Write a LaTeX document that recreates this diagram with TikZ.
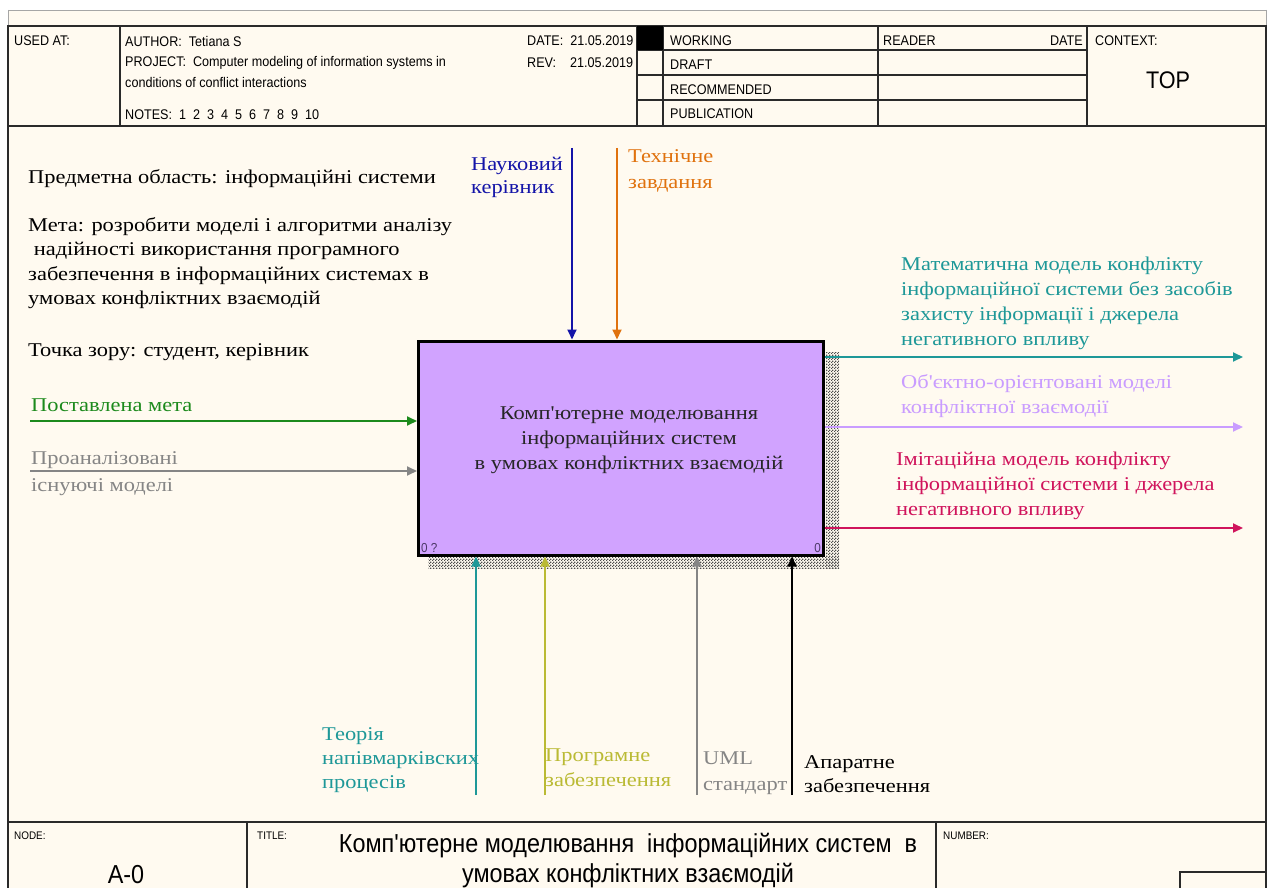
\documentclass[tikz,border=0pt]{standalone}
\usepackage{fontspec}
\setmainfont{Liberation Serif}[Ligatures=TeXOff, FakeStretch=1.15]
\newfontfamily\hdrfont[FakeStretch=0.9]{Liberation Sans}
\usetikzlibrary{arrows.meta,patterns}

\definecolor{paper}{HTML}{FFFAF0}
\definecolor{framec}{HTML}{2A2A2A}
\definecolor{boxfill}{HTML}{D1A3FF}
\definecolor{blueC}{HTML}{1414A8}
\definecolor{orangeC}{HTML}{E0720E}
\definecolor{greenC}{HTML}{1C8A1C}
\definecolor{grayC}{HTML}{858585}
\definecolor{tealC}{HTML}{1E9898}
\definecolor{lavC}{HTML}{C99CFF}
\definecolor{crimC}{HTML}{D0145C}
\definecolor{oliveC}{HTML}{BABA34}
\definecolor{cornerC}{HTML}{4C3868}

% fine checker used for the drop shadow of the activity box
\pgfdeclarepatternformonly{finechecker}{\pgfpointorigin}{\pgfpoint{3pt}{3pt}}{\pgfpoint{3pt}{3pt}}{%
  \pgfpathrectangle{\pgfpointorigin}{\pgfpoint{1.5pt}{1.5pt}}%
  \pgfpathrectangle{\pgfpoint{1.5pt}{1.5pt}}{\pgfpoint{1.5pt}{1.5pt}}%
  \pgfusepath{fill}}

\tikzset{
  frameline/.style={draw=framec, line width=1.6pt},
  thinline/.style={draw=framec, line width=1.2pt},
  hdr/.style={font=\hdrfont\fontsize{14}{16}\selectfont, anchor=west, inner sep=0pt, text=black},
  tiny/.style={font=\hdrfont\fontsize{11}{13}\selectfont, anchor=west, inner sep=0pt, text=black},
  big/.style={font=\hdrfont\fontsize{26}{30}\selectfont, inner sep=0pt, text=black},
  lbl/.style={font=\fontsize{19.5}{24.5}\selectfont, align=left, anchor=north west, inner sep=0pt},
  flow/.style={line width=1.8pt, -{Triangle[length=10pt,width=9pt]}},
  funcbox/.style={draw=black, line width=3pt, fill=boxfill, minimum width=405pt, minimum height=214pt, inner sep=0pt},
  hatch/.style={pattern=finechecker, pattern color=black!70},
}

\begin{document}
\begin{tikzpicture}[x=1pt,y=-1pt]
% page and sheet
\useasboundingbox (0,0) rectangle (1269,888);
\fill[white] (0,0) rectangle (1269,888);
\fill[paper] (8,10) rectangle (1266,888);
\draw[gray!70, line width=0.8pt] (8,10) -- (1266,10);
\draw[gray!70, line width=0.8pt] (8,10) -- (8,26);
\draw[gray!70, line width=0.8pt] (1266,10) -- (1266,26);

% outer frame
\draw[frameline] (8,888) -- (8,26) -- (1266,26) -- (1266,888);
\draw[frameline] (8,126) -- (1266,126);
\draw[frameline] (8,822) -- (1266,822);

% header grid
\draw[thinline] (120,26) -- (120,126);
\draw[thinline] (637,26) -- (637,126);
\draw[thinline] (663,26) -- (663,126);
\draw[thinline] (878,26) -- (878,126);
\draw[thinline] (1087,26) -- (1087,126);
\draw[thinline] (637,50) -- (1087,50);
\draw[thinline] (637,75) -- (1087,75);
\draw[thinline] (637,100) -- (1087,100);
\fill[black] (637,26) rectangle (663,50);

% header texts
\node[hdr] (usedat) at (14,41) {USED AT:};
\node[hdr] (author) at (125,41) {AUTHOR:\ \ Tetiana S};
\node[hdr] (proj1) at (125,63) {PROJECT:\ \ Computer modeling of information systems in};
\node[hdr] (proj2) at (125,82) {conditions of conflict interactions};
\node[hdr] (notes) at (125,115) {NOTES:\ \ 1\ \ 2\ \ 3\ \ 4\ \ 5\ \ 6\ \ 7\ \ 8\ \ 9\ \ 10};
\node[hdr] (date) at (527,41) {DATE:\ \ 21.05.2019};
\node[hdr] (rev) at (527,63) {REV:\ \ \ \ 21.05.2019};
\node[hdr] (working) at (670,41) {WORKING};
\node[hdr] (draft) at (670,65) {DRAFT};
\node[hdr] (recom) at (670,90) {RECOMMENDED};
\node[hdr] (publ) at (670,114) {PUBLICATION};
\node[hdr] (reader) at (883,41) {READER};
\node[hdr, anchor=east] (rdate) at (1083,41) {DATE};
\node[hdr] (context) at (1095,41) {CONTEXT:};
\node[big, font=\hdrfont\fontsize{24}{28}\selectfont] (top) at (1168,80) {TOP};

% footer
\draw[thinline] (247,822) -- (247,888);
\draw[thinline] (936,822) -- (936,888);
\draw[thinline] (1180,888) -- (1180,872) -- (1266,872);
\node[tiny] (nodelbl) at (14,836) {NODE:};
\node[big] (nodeid) at (126,875) {A-0};
\node[tiny] (titlelbl) at (257,836) {TITLE:};
\node[big, align=center] (title) at (628,861)
  {Комп'ютерне моделювання\ \ інформаційних систем\ \ в\\умовах конфліктних взаємодій};
\node[tiny] (numlbl) at (943,836) {NUMBER:};

% descriptive text
\node[lbl] (subject) at (28,169) {Предметна область: інформаційні системи};
\node[lbl] (goal) at (28,217) {Мета: розробити моделі і алгоритми аналізу\\\ надійності використання програмного\\забезпечення в інформаційних системах в\\умовах конфліктних взаємодій};
\node[lbl] (view) at (28,343) {Точка зору: студент, керівник};

% activity box with its shadow
\fill[hatch] (826,352) rectangle (839,568);
\fill[hatch] (428,557) rectangle (839,568);
\node[funcbox] (fn) at (621,448) {};
\node[font=\fontsize{19.5}{25}\selectfont, align=center, text=black!85] (fnlabel) at (629,440)
  {Комп'ютерне моделювання\\інформаційних систем\\в умовах конфліктних взаємодій};
\node[font=\hdrfont\fontsize{13}{14}\selectfont, text=cornerC, anchor=south west, inner sep=0pt] (numl) at ([shift={(4,-4)}]fn.south west) {0 ?};
\node[font=\hdrfont\fontsize{13}{14}\selectfont, text=cornerC, anchor=south east, inner sep=0pt] (numr) at ([shift={(-4,-4)}]fn.south east) {0};

% controls
\coordinate (c1) at (572,148);
\coordinate (c2) at (617,148);
\draw[flow, blueC] (c1) -- (c1 |- fn.north);
\draw[flow, orangeC] (c2) -- (c2 |- fn.north);
\node[lbl, text=blueC, font=\fontsize{19.5}{23}\selectfont] (c1lbl) at (471,157) {Науковий\\керівник};
\node[lbl, text=orangeC, font=\fontsize{19.5}{26}\selectfont] (c2lbl) at (628,149) {Технічне\\завдання};

% inputs
\coordinate (i1) at (30,421);
\coordinate (i2) at (30,471);
\draw[flow, greenC] (i1) -- (i1 -| fn.west);
\draw[flow, grayC] (i2) -- (i2 -| fn.west);
\node[lbl, text=greenC] (i1lbl) at (31,399) {Поставлена мета};
\node[lbl, text=grayC, font=\fontsize{19.5}{27}\selectfont] (i2lbl) at (31,451) {Проаналізовані\\існуючі моделі};

% outputs
\coordinate (o1) at (1243,357);
\coordinate (o2) at (1243,427);
\coordinate (o3) at (1243,528);
\draw[flow, tealC] (o1 -| fn.east) -- (o1);
\draw[flow, lavC] (o2 -| fn.east) -- (o2);
\draw[flow, crimC] (o3 -| fn.east) -- (o3);
\node[lbl, text=tealC, font=\fontsize{19.5}{25}\selectfont] (o1lbl) at (901,257) {Математична модель конфлікту\\інформаційної системи без засобів\\захисту інформації і джерела\\негативного впливу};
\node[lbl, text=lavC, font=\fontsize{19.5}{25}\selectfont] (o2lbl) at (901,374) {Об'єктно-орієнтовані моделі\\конфліктної взаємодії};
\node[lbl, text=crimC, font=\fontsize{19.5}{25}\selectfont] (o3lbl) at (896,452) {Імітаційна модель конфлікту\\інформаційної системи і джерела\\негативного впливу};

% mechanisms
\coordinate (m1) at (476,795);
\coordinate (m2) at (545,795);
\coordinate (m3) at (697,795);
\coordinate (m4) at (792,795);
\draw[flow, tealC] (m1) -- (m1 |- fn.south);
\draw[flow, oliveC] (m2) -- (m2 |- fn.south);
\draw[flow, grayC] (m3) -- (m3 |- fn.south);
\draw[flow, black] (m4) -- (m4 |- fn.south);
\node[lbl, text=tealC, font=\fontsize{19.5}{24}\selectfont] (m1lbl) at (322,727) {Теорія\\напівмарківских\\процесів};
\node[lbl, text=oliveC, font=\fontsize{19.5}{25}\selectfont] (m2lbl) at (545,749) {Програмне\\забезпечення};
\node[lbl, text=grayC, font=\fontsize{19.5}{26}\selectfont] (m3lbl) at (703,752) {UML\\стандарт};
\node[lbl, text=black, font=\fontsize{19.5}{24}\selectfont] (m4lbl) at (804,755) {Апаратне\\забезпечення};
\end{tikzpicture}
\end{document}
